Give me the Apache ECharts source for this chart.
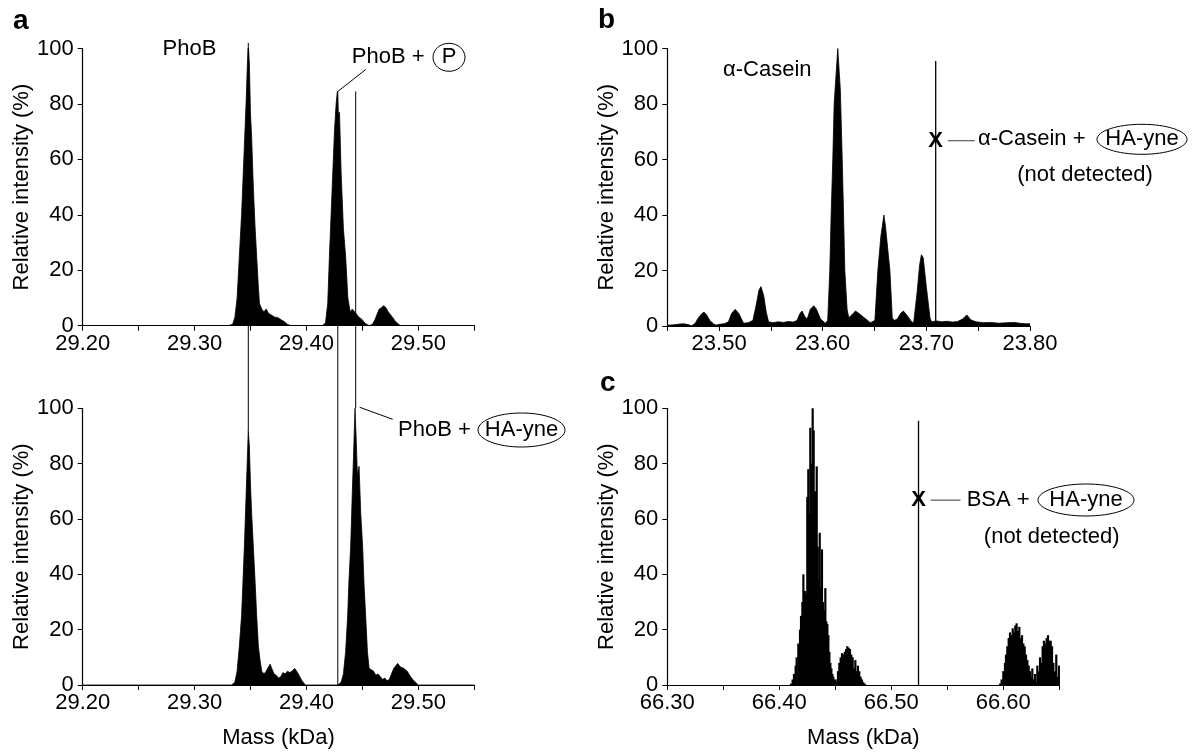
<!DOCTYPE html>
<html>
<head>
<meta charset="utf-8">
<title>Mass spectra</title>
<script src="https://cdn.jsdelivr.net/npm/echarts@6/dist/echarts.min.js"></script>
<style>
  html, body { margin: 0; padding: 0; background: #fff; }
  #main { width: 1201px; height: 756px; }
</style>
</head>
<body>
<div id="main"></div>
<script>
// ---- data (mass in kDa, intensity in %) ----
// a, top: PhoB
var phobMass = [29.200, 29.330, 29.334, 29.336, 29.338, 29.340, 29.342, 29.343, 29.345, 29.346, 29.347, 29.348,
    29.349, 29.350, 29.351, 29.3525, 29.354, 29.3555, 29.357, 29.358, 29.360, 29.362, 29.364, 29.366, 29.368,
    29.370, 29.372, 29.374, 29.376, 29.378, 29.380, 29.383, 29.386,
    29.414, 29.417, 29.419, 29.4205, 29.422, 29.423, 29.425, 29.4265, 29.4276, 29.4285, 29.4295, 29.431, 29.4315,
    29.433, 29.435, 29.437, 29.439, 29.441, 29.443, 29.445, 29.447, 29.449, 29.451, 29.453, 29.456,
    29.459, 29.461, 29.463, 29.465, 29.467, 29.469, 29.471, 29.473, 29.475, 29.477, 29.479, 29.481, 29.484, 29.550];
var phobInt = [0, 0, 0.5, 3, 10, 25, 40, 50, 70, 80, 92, 102,
    94, 76, 68, 50, 36, 25, 14, 8, 6, 5, 6, 4.5, 4,
    3.5, 3, 3, 2.5, 2, 1.5, 0.5, 0,
    0, 1, 8, 25, 40, 50, 70, 80, 84.5, 76, 77, 55, 50,
    35, 25, 10, 5, 6, 5, 4, 3, 2.5, 1.5, 0.7, 0,
    0.5, 2, 4, 6, 6.5, 7.2, 6.5, 5, 4, 3, 1.8, 1, 0, 0];

// a, bottom: PhoB + HA-yne
var hayneMass = [29.200, 29.333, 29.336, 29.338, 29.340, 29.342, 29.3435, 29.3445, 29.346, 29.347, 29.348, 29.349,
    29.350, 29.351, 29.3525, 29.354, 29.3555, 29.357, 29.3585, 29.360, 29.362, 29.364, 29.366, 29.3675, 29.369,
    29.371, 29.373, 29.375, 29.377, 29.379, 29.381, 29.383, 29.385, 29.387, 29.3895, 29.392, 29.394, 29.396, 29.399,
    29.428, 29.431, 29.433, 29.435, 29.4368, 29.438, 29.4395, 29.441, 29.442, 29.4434, 29.4445, 29.4455, 29.447,
    29.4485, 29.4502, 29.4515, 29.4529, 29.4545, 29.456, 29.458, 29.460, 29.462, 29.464, 29.466, 29.468, 29.470,
    29.472, 29.474, 29.476, 29.478, 29.4815, 29.484, 29.487, 29.490, 29.493, 29.496, 29.500, 29.550];
var hayneInt = [0, 0, 1, 5, 14, 25, 40, 50, 68, 80, 92, 86,
    72, 62, 50, 38, 25, 14, 9, 5, 4, 5, 6.5, 7.5, 6,
    4, 3.5, 2.5, 3, 4.5, 4, 5, 4.5, 5, 6, 4.5, 3, 1.5, 0,
    0, 1, 4, 12, 25, 38, 50, 70, 82, 100, 88, 76, 79,
    62, 50, 36, 25, 12, 6, 5.5, 5, 3.5, 4, 3, 2, 2.5,
    1.5, 2, 4, 6, 7.8, 6.5, 6, 5, 3, 1.5, 0, 0];

// b: alpha-Casein
var casMass = [23.450, 23.455, 23.460, 23.465, 23.469, 23.4736, 23.477, 23.480, 23.4835, 23.4855, 23.488, 23.491,
    23.4945, 23.497, 23.500, 23.505, 23.509, 23.512, 23.5155, 23.519, 23.5236, 23.528, 23.5326, 23.536, 23.5385,
    23.5404, 23.543, 23.5455, 23.5477, 23.552, 23.557, 23.562, 23.567, 23.5715, 23.5752, 23.578, 23.580, 23.5825,
    23.585, 23.588, 23.5913, 23.594, 23.5978, 23.6026, 23.6048, 23.6068, 23.6081, 23.6097, 23.611, 23.6145, 23.617,
    23.6188, 23.6201, 23.6213, 23.6235, 23.6251, 23.628, 23.6316, 23.635, 23.640, 23.646, 23.6503, 23.6532, 23.656,
    23.659, 23.6605, 23.6648, 23.6671, 23.669, 23.672, 23.675, 23.6778, 23.681, 23.6849, 23.6875, 23.688, 23.691,
    23.6935, 23.6952, 23.697, 23.700, 23.7035, 23.7049, 23.710, 23.715, 23.720, 23.725, 23.730, 23.735, 23.739,
    23.743, 23.748, 23.755, 23.762, 23.770, 23.778, 23.785, 23.790, 23.796, 23.800];
var casInt = [0.3, 0.4, 0.6, 0.8, 0.6, 0.1, 1, 3, 4.5, 5, 4, 2,
    0.8, 0.3, 0.6, 0.8, 1.5, 4.5, 6, 4.5, 1, 1.2, 2, 8, 13,
    14.2, 11, 5, 1.5, 1.2, 1.5, 1.3, 1.6, 1.4, 2, 4.5, 5.4, 3.5,
    2.5, 6, 7.3, 6, 2.5, 1, 2, 20, 40, 60, 80, 100, 85,
    60, 40, 20, 6, 3, 4, 5.4, 4.5, 3, 1.2, 2, 20, 32,
    40, 36, 20, 3, 2, 2.5, 4.5, 5.4, 4, 2, 1, 2, 12,
    22, 25.7, 24.5, 14, 3, 1.5, 1.8, 1.5, 1.7, 1.4, 1.6, 2.5, 4,
    2.2, 1.5, 1.2, 1.3, 1.0, 1.2, 1.3, 1.0, 0.8, 0.8];

// c: BSA
var bsaMass = [66.4104, 66.4119, 66.4131, 66.4146, 66.4155, 66.4170, 66.4185, 66.4194, 66.4206, 66.4215, 66.4230,
    66.4238, 66.4250, 66.4259, 66.4268, 66.4277, 66.4289, 66.4298, 66.4307, 66.4319, 66.4325, 66.4334, 66.4343,
    66.4352, 66.4361, 66.4369, 66.4381, 66.4390, 66.4402, 66.4411, 66.4420, 66.4429, 66.4438, 66.4447, 66.4456,
    66.4465, 66.4474, 66.4482, 66.4491, 66.4503, 66.4512, 66.4524, 66.4536, 66.4548, 66.4560, 66.4572, 66.4584,
    66.4596, 66.4607, 66.4619, 66.4631, 66.4643, 66.4655, 66.4667, 66.4679, 66.4691, 66.4702, 66.4714, 66.4726,
    66.4738, 66.4750, 66.4765,
    66.5971, 66.5985, 66.6000, 66.6015, 66.6024, 66.6036, 66.6048, 66.6060, 66.6072, 66.6084, 66.6096, 66.6107,
    66.6119, 66.6131, 66.6143, 66.6155, 66.6167, 66.6179, 66.6191, 66.6203, 66.6215, 66.6227, 66.6238, 66.6250,
    66.6259, 66.6271, 66.6283, 66.6295, 66.6304, 66.6316, 66.6328, 66.6340, 66.6351, 66.6363, 66.6375, 66.6387,
    66.6399, 66.6411, 66.6423, 66.6435, 66.6447, 66.6462, 66.6473, 66.6485, 66.6497];
var bsaInt = [0.5, 2, 4, 7, 10, 15, 20, 25, 30, 40, 34,
    33, 68, 78, 62, 93, 80, 100, 92, 70, 60, 79, 50,
    38, 55, 35, 49, 30, 27, 35, 23, 22, 18, 12, 8,
    6, 4, 3, 2, 2, 1, 5, 8, 10, 11.5, 11, 12,
    13, 14, 13.5, 13, 11, 10, 6, 9, 5, 7, 5, 3,
    2, 1, 0.5,
    0.5, 2, 5, 8, 11, 14, 17, 19, 18, 20.5, 19, 21.5,
    22.3, 19.5, 21, 17, 18, 15, 14, 11, 9, 7, 5, 3,
    6, 2, 4, 1, 7, 5, 10, 8, 14, 16, 15, 17,
    18, 16, 16, 14, 8, 5, 11, 3, 7];

// guide lines in panel a: mass, top-panel end, bottom-panel end
var guideMass = [29.348, 29.428, 29.444];
var guideTop = [102, 84.5, 84.5];
var guideBottom = [92, 0, 100];
// expected (not detected) adducts in b and c
var casAdduct = 23.709;
var bsaAdduct = 66.5243;
var adductLineTop = 95.5;
var adductMarkY = 66.8;

var FONT = '"Liberation Sans", Arial, Helvetica, sans-serif';

function pairs(xs, ys) {
    return xs.map(function (x, i) { return [x, ys[i]]; });
}

function xAx(grid, min, max, name) {
    return {
        type: 'value', gridIndex: grid, min: min, max: max, interval: 0.05,
        axisLine: { show: true, onZero: false, lineStyle: { color: '#000', width: 1.2 } },
        axisTick: { show: true, length: 5, lineStyle: { color: '#000', width: 1 } },
        splitLine: { show: false },
        axisLabel: {
            fontSize: 22, color: '#000', margin: 7, fontFamily: FONT,
            showMinLabel: true, showMaxLabel: true,
            formatter: function (v) {
                return Math.round(v * 100) % 10 === 0 ? v.toFixed(2) : '';
            }
        },
        name: name, nameLocation: 'middle', nameGap: 42,
        nameTextStyle: { fontSize: 22, color: '#000', fontFamily: FONT }
    };
}

function yAx(grid) {
    return {
        type: 'value', gridIndex: grid, min: 0, max: 100, interval: 20,
        axisLine: { show: true, lineStyle: { color: '#000', width: 1.2 } },
        axisTick: { show: true, length: 5, lineStyle: { color: '#000', width: 1 } },
        splitLine: { show: false },
        axisLabel: { fontSize: 22, color: '#000', margin: 9, fontFamily: FONT },
        name: 'Relative intensity (%)', nameLocation: 'middle', nameGap: 48, nameRotate: 90,
        nameTextStyle: { fontSize: 22, color: '#000', fontFamily: FONT }
    };
}

function areaSeries(idx, data) {
    return {
        type: 'line', xAxisIndex: idx, yAxisIndex: idx, data: data,
        symbol: 'none', silent: true, animation: false,
        lineStyle: { color: '#000', width: 0.8 },
        areaStyle: { color: '#000', opacity: 1 }
    };
}

var myChart = echarts.init(document.getElementById('main'), null, { renderer: 'canvas' });

var option = {
    animation: false,
    backgroundColor: '#fff',
    textStyle: { fontFamily: FONT },
    grid: [
        { left: 82.7, top: 48.5, width: 391.6, height: 277.2 },
        { left: 82.7, top: 408.3, width: 391.6, height: 276.7 },
        { left: 667.3, top: 48.5, width: 362.7, height: 277.5 },
        { left: 667.3, top: 408.3, width: 392, height: 276.7 }
    ],
    xAxis: [
        xAx(0, 29.20, 29.55, ''),
        xAx(1, 29.20, 29.55, 'Mass (kDa)'),
        xAx(2, 23.45, 23.80, ''),
        xAx(3, 66.30, 66.65, 'Mass (kDa)')
    ],
    yAxis: [yAx(0), yAx(1), yAx(2), yAx(3)],
    series: [
        areaSeries(0, pairs(phobMass, phobInt)),
        areaSeries(1, pairs(hayneMass, hayneInt)),
        areaSeries(2, pairs(casMass, casInt)),
        {
            type: 'bar', xAxisIndex: 3, yAxisIndex: 3, data: pairs(bsaMass, bsaInt),
            barWidth: 2.2, barMaxWidth: 3, silent: true, animation: false,
            itemStyle: { color: '#000' }
        }
    ]
};
myChart.setOption(option);

// ---- annotations ----
function px(g, x, y) {
    return myChart.convertToPixel({ gridIndex: g }, [x, y]);
}
function line(p, q, color, w) {
    return { type: 'line', silent: true, shape: { x1: p[0], y1: p[1], x2: q[0], y2: q[1] },
        style: { stroke: color || '#000', lineWidth: w || 1 } };
}
function txt(s, x, y, size, align, weight) {
    return { type: 'text', x: x, y: y, silent: true,
        style: { text: s, font: (weight || 'normal') + ' ' + size + 'px ' + FONT, fill: '#000',
            align: align || 'left', verticalAlign: 'middle', textAlign: align || 'left', textVerticalAlign: 'middle' } };
}
function oval(cx, cy, rx, ry) {
    return { type: 'ellipse', silent: true, shape: { cx: cx, cy: cy, rx: rx, ry: ry },
        style: { fill: 'none', stroke: '#000', lineWidth: 1 } };
}

var g = [];
// vertical guides crossing both panels of a
for (var i = 0; i < guideMass.length; i++) {
    g.push(line(px(0, guideMass[i], guideTop[i]), px(1, guideMass[i], guideBottom[i])));
}
// leader lines to PhoB + P and PhoB + HA-yne peaks
var pTop = px(0, guideMass[1], guideTop[1]);
g.push(line([pTop[0] + 28, pTop[1] - 22], pTop));
var hTop = px(1, guideMass[2], 100);
g.push(line([hTop[0] + 4, hTop[1] - 1], [hTop[0] + 37, hTop[1] + 11]));

g.push(txt('a', 13, 21, 28, 'left', 'bold'));
g.push(txt('b', 598, 20, 28, 'left', 'bold'));
g.push(txt('c', 600, 383, 28, 'left', 'bold'));

g.push(txt('PhoB', 162.5, 49.3, 22));
g.push(txt('PhoB +', 351.8, 57.3, 22));
g.push(oval(449, 57.3, 16, 14));
g.push(txt('P', 449, 57.3, 22, 'center'));

g.push(txt('PhoB +', 398, 430, 22));
g.push(oval(521.5, 430, 43.5, 17));
g.push(txt('HA-yne', 521.5, 430, 22, 'center'));

// b: alpha-Casein adduct (not detected)
g.push(txt('\u03b1-Casein', 723, 70, 22));
var bTop = px(2, casAdduct, adductLineTop), bBase = px(2, casAdduct, 0), bMark = px(2, casAdduct, adductMarkY);
g.push(line(bTop, bBase, '#000', 1.3));
g.push(txt('X', bMark[0], bMark[1], 22, 'center', 'bold'));
g.push(line([bMark[0] + 12, bMark[1]], [bMark[0] + 39, bMark[1]], '#666', 1.3));
g.push(txt('\u03b1-Casein +', 978, 139.3, 22));
g.push(oval(1142, 139.3, 45, 15));
g.push(txt('HA-yne', 1142, 139.3, 22, 'center'));
g.push(txt('(not detected)', 1085, 175, 22, 'center'));

// c: BSA adduct (not detected)
var cTop = px(3, bsaAdduct, adductLineTop), cBase = px(3, bsaAdduct, 0), cMark = px(3, bsaAdduct, adductMarkY);
g.push(line(cTop, cBase, '#000', 1.3));
g.push(txt('X', cMark[0], cMark[1], 22, 'center', 'bold'));
g.push(line([cMark[0] + 12, cMark[1]], [cMark[0] + 42, cMark[1]], '#666', 1.3));
g.push(txt('BSA +', 966.7, 500, 22));
g.push(oval(1086, 500, 48, 16));
g.push(txt('HA-yne', 1086, 500, 22, 'center'));
g.push(txt('(not detected)', 1051.7, 536.7, 22, 'center'));

myChart.setOption({ graphic: { elements: g } });
</script>
</body>
</html>
